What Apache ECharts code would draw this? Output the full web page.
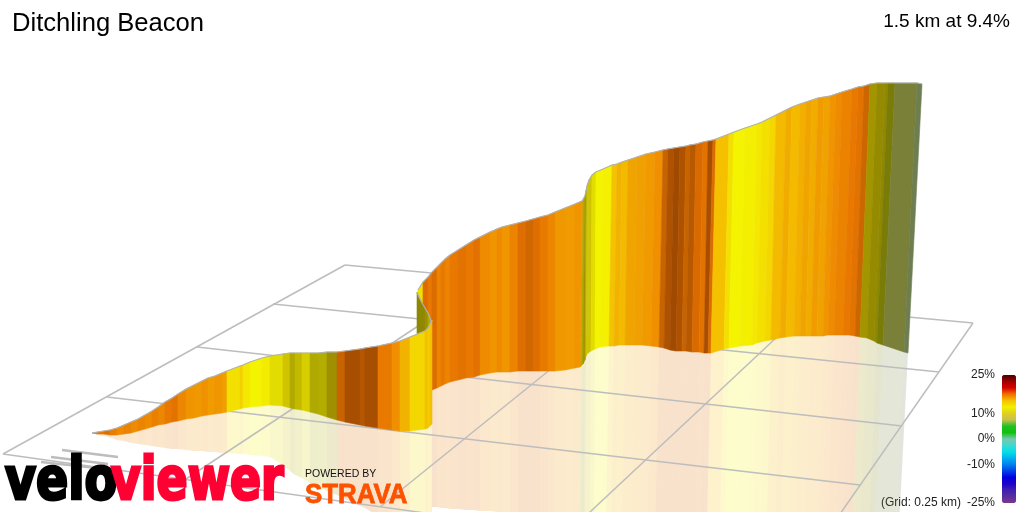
<!DOCTYPE html>
<html><head><meta charset="utf-8">
<style>html,body{margin:0;padding:0;background:#fff}#c{width:1024px;height:512px}</style>
<script src="https://cdn.jsdelivr.net/npm/echarts@6/dist/echarts.min.js"></script>
</head><body><div id="c"></div>
<script>
const titleText = 'Ditchling Beacon';
const summaryText = '1.5 km at 9.4%';
const legendTicks = [25, 10, 0, -10, -25];
const gridNote = '(Grid: 0.25 km)';

// front (lower) wall
const frontX = [92,98,104,110,117,124,131,138,145,152,158,165,172,178,186,194,202,208,215,222,227,240,243,250,262,270,283,290,295,302,310,318,327,337,345,360,365,378,392,400,410,425,428,430,432];
const frontTop = [433,432,431,430,428,425,422,419,415,411,407,402,398,394,389,385,381,378,376,373,371,366,365,362,358,356,354,353,353,353,353,353,352,352,351,349,348,346,343,341,337,331,328,324,320];
const frontBase = [433,434,434,435,435,434,433,431,429,427,425,424,422,421,419,418,416,415,414,413,412,409,408,407,406,405,406,408,409,410,412,414,417,420,422,425,426,428,430,431,431,429,428,426,424];
const frontShadow = [433,435,436,437,440,441,443,444,445,446,447,448,449,449,450,451,451,452,452,453,453,454,454,455,456,457,465,471,475,478,483,487,491,495,499,506,508,516,520,520,520,520,520,520,520];
const frontGrade = [11.3,11,11.4,10.8,10.3,10.6,10.2,10.5,10.2,10.7,10.4,11,11.2,10.4,9.8,9.6,9.9,9.4,9.7,9.3,7,7.5,6.6,6,6.4,5.5,5,4,4.6,5.2,4,4.1,3.5,12,13,12.6,13,10.9,10,8.5,7.3,8,7.6,8,8];

// back (upper) wall
const backTopX = [432,437,441,445,450,458,466,474,480,490,497,502,510,518,526,533,540,548,555,565,575,582,583,585,586,587,589,592,596,603,612,617,622,628,637,646,655,663,668,674,680,686,690,696,703,708,713,716,729,734,745,757,762,770,776,786,792,800,806,812,818,824,830,836,842,852,858,864,870,877,885,888,895,917,922];
const backTop = [272,267,263,259,255,250,245,240,237,232,229,227,225,223,221,219,217,215,212,208,204,201,200,196,191,186,180,175,172,169,165,164,162,160,157,154,152,150,149,148,147,146,145,144,142,141,140,139,134,132,128,124,122,118,115,110,107,104,102,100,98,97,96,94,92,89,87,86,84,83,83,83,83,83,84];
const backBaseX = [432,437,441,445,450,458,466,474,480,490,497,502,510,518,526,533,540,548,555,565,575,580,581,583,585,586,588,591,595,600,609,614,619,625,634,642,651,659,664,670,676,682,686,692,699,704,708,711,724,729,740,752,757,765,771,780,786,794,800,806,811,817,823,828,834,843,849,855,860,867,874,877,883,904,908];
const backBase = [390,388,386,384,382,380,378,377,375,373,372,372,372,371,371,371,371,371,371,370,368,367,366,364,360,356,353,351,349,347,346,346,345,345,345,345,346,347,348,350,351,351,351,352,352,353,353,353,349,348,346,345,343,341,340,338,337,336,336,336,336,336,336,335,335,335,335,336,337,338,341,343,345,352,353];
const backShadow = [507,507,508,508,509,509,510,510,511,511,512,514,520,520,520,520,520,520,520,520,520,520,520,520,520,520,520,520,520,520,520,520,520,520,520,520,520,520,520,520,520,520,520,520,520,520,520,520,520,520,520,520,520,520,520,520,520,520,520,520,520,520,520,520,520,520,520,520,520,520,520,520,520,520,520];
const backGrade = [11.5,10.5,11,10.5,11,11.2,11,11.3,10.2,9.8,10.2,9.7,10.5,11.4,11.8,11.4,10.9,10.4,9.6,9.4,9.8,9.6,4,3.5,4,5,5,5.5,6,6.2,7.9,8.5,8.2,9,9.2,9.5,10,12,12.8,13.3,12.8,12,12.5,11.6,11.2,13,11.5,8,7,6,6.3,6.6,7,7.3,8.2,8.7,8.2,8.6,9,8.7,9.4,9.1,9.8,10.2,10.6,11,11.2,11.9,3.6,3.2,3,2.5,1.5,1,1];

// start of the upper wall, behind the fold
const startTopX = [418,423,428,432];
const startTop = [290,282,277,272];
const startBase = [396,394,392,390];
const startGrade = [7,11.5,11,11];

// fold between the two walls
const foldX = [417,419,422,425,428,430,431];
const foldTop = [292,297,303,308,313,318,321];
const foldBase = [340,340,340,340,340,340,340];
const foldGrade = [3,3,3,3.5,4,4,4];

// ground grid polylines
const gridLines = [
  [[345,265],[973,323]],
  [[273,304],[939,372]],
  [[197,347],[902,426]],
  [[107,397],[860,485]],
  [[3,454],[432,514]],
  [[345,265],[3,454]],
  [[491,278],[186,479]],
  [[645,293],[380,507]],
  [[808,308],[590,512]],
  [[973,323],[840,514]]
];
const logoLines = [
  [[62,450],[118,457]],
  [[51,457],[108,464]],
  [[41,462],[97,468]]
];

const gradeStops = [
  [1,[110,126,80]],[1.5,[122,128,56]],[2.5,[122,124,8]],[3,[143,136,0]],[3.5,[160,144,0]],
  [4,[176,170,0]],[5,[208,196,0]],[6,[244,244,0]],[7,[244,224,0]],[8,[244,192,0]],
  [9,[240,164,0]],[10,[240,144,0]],[11,[232,120,0]],[11.5,[220,108,0]],[12,[200,100,0]],
  [13,[168,78,0]],[14,[138,66,0]]
];
function gradeColor(g){
  let c = gradeStops[gradeStops.length-1][1];
  for(let i=0;i<gradeStops.length-1;i++){
    const a=gradeStops[i],b=gradeStops[i+1];
    if(g>=a[0]&&g<=b[0]){
      const t=(g-a[0])/(b[0]-a[0]);
      c=a[1].map((v,k)=>Math.round(v+(b[1][k]-v)*t));
      break;
    }
  }
  return 'rgb('+c.join(',')+')';
}

function strips(tx,ty,bx,by,g){
  const out=[];
  for(let i=0;i<tx.length-1;i++) out.push([tx[i],ty[i],tx[i+1],ty[i+1],bx[i+1],by[i+1],bx[i],by[i],g[i]]);
  return out;
}
function shadowStrips(tx,ty,bx,by,sy,g){
  const out=[];
  const far=(i)=>bx[i]+(bx[i]-tx[i])*(sy[i]-by[i])/(by[i]-ty[i]);
  for(let i=0;i<tx.length-1;i++) out.push([bx[i],by[i],bx[i+1],by[i+1],far(i+1),sy[i+1],far(i),sy[i],g[i]]);
  return out;
}
function quad(opacity,stroke,cap){
  return function(params,api){
    const pts=[0,2,4,6].map(k=>api.coord([api.value(k),api.value(k+1)]));
    const col=gradeColor(Math.min(api.value(8),cap));
    return {type:'polygon',shape:{points:pts},style:{fill:col,opacity:opacity,stroke:stroke?col:null,lineWidth:stroke?0.6:0}};
  };
}
function wallSeries(data,z){
  return {type:'custom',silent:true,z:z,coordinateSystem:'cartesian2d',renderItem:quad(1,true,99),data:data,clip:false};
}
function edge(xs,ys,z,w,col){
  return {type:'line',silent:true,z:z,symbol:'none',data:xs.map((x,i)=>[x,ys[i]]),lineStyle:{color:col||'#aeb2b8',width:w||1.2},smooth:false};
}
function polyLines(list,z,col,w){
  return list.map(l=>({type:'line',silent:true,z:z,symbol:'none',data:l,lineStyle:{color:col,width:w},clip:false}));
}

const legendColors = ['#7a3a8a','#5a2ca0','#4020b0','#2000c8','#0000e0','#0040ea','#0080f0','#00b0f0','#00e0e8','#40d8d0','#78c8b0','#10c010','#20c020','#c8c050','#e0d020','#f0f000','#f5c000','#f07000','#d80000','#a00000','#4a0000'];

function lab(text,right,y,size,color){
  return {type:'text',right:right,top:y,silent:true,style:{text:text,font:size+'px "Liberation Sans"',fill:color||'#222',textAlign:'right'}};
}

const chart = echarts.init(document.getElementById('c'),null,{renderer:'canvas'});
chart.setOption({
  animation:false,
  backgroundColor:'#fff',
  grid:{left:0,right:0,top:0,bottom:0},
  xAxis:{type:'value',min:0,max:1024,show:false},
  yAxis:{type:'value',min:0,max:512,inverse:true,show:false},
  title:[
    {text:titleText,left:12,top:11,padding:0,textStyle:{fontFamily:'Liberation Sans',fontSize:25.6,fontWeight:'normal',color:'#000'}},
    {text:summaryText,right:14,top:12,padding:0,textStyle:{fontFamily:'Liberation Sans',fontSize:19,fontWeight:'normal',color:'#000'}}
  ],
  visualMap:{type:'continuous',min:-25,max:25,seriesIndex:0,left:1002,top:375,padding:0,itemWidth:14,itemHeight:128,calculable:false,hoverLink:false,inRange:{color:legendColors},outOfRange:{color:legendColors},show:true,text:null,dimension:0},
  series:[
    {type:'custom',silent:true,data:[],renderItem:function(){return null;}},
    {type:'custom',silent:true,z:1,renderItem:quad(0.2,false,11.5),data:shadowStrips(backTopX,backTop,backBaseX,backBase,backShadow,backGrade),clip:false},
    {type:'custom',silent:true,z:1,renderItem:quad(0.2,false,11.5),data:shadowStrips(frontX,frontTop,frontX,frontBase,frontShadow,frontGrade),clip:false},
    ...polyLines(gridLines,2,'#bdbdbd',1.5),
    ...polyLines(logoLines,2,'#bdbdbd',2.6),
    wallSeries(strips(startTopX,startTop,startTopX,startBase,startGrade),3),
    wallSeries(strips(backTopX,backTop,backBaseX,backBase,backGrade),3),
    edge(startTopX,startTop,4),
    edge(backTopX,backTop,4),
    wallSeries(strips(foldX,foldTop,foldX,foldBase,foldGrade),5),
    edge(foldX,foldTop,6),
    wallSeries(strips(frontX,frontTop,frontX,frontBase,frontGrade),7),
    edge(frontX,frontTop,8)
  ],
  graphic:[
    ...legendTicks.map((t,i)=>{
      const ys=[369,408,433,459,497];
      return lab(t+'%',1024-995,ys[i],12);
    }),
    lab(gridNote,1024-961,497,12),
    {type:'text',z:20,x:5,y:455,scaleX:0.82,silent:true,style:{text:'velo',font:'bold 58px "DejaVu Sans"',fill:'#000',stroke:'#000',lineWidth:3}},
    {type:'text',z:21,x:111,y:455,scaleX:0.79,silent:true,style:{text:'viewer',font:'bold 58px "DejaVu Sans"',fill:'#ff0033',stroke:'#ff0033',lineWidth:3}},
    {type:'text',z:20,x:305,y:469,silent:true,style:{text:'POWERED BY',font:'10.5px "Liberation Sans"',fill:'#111'}},
    {type:'text',z:20,x:305,y:481,scaleX:0.94,silent:true,style:{text:'STRAVA',font:'bold 27.5px "Liberation Sans"',fill:'#fc5200',stroke:'#fc5200',lineWidth:0.8}}
  ]
});
</script></body></html>
